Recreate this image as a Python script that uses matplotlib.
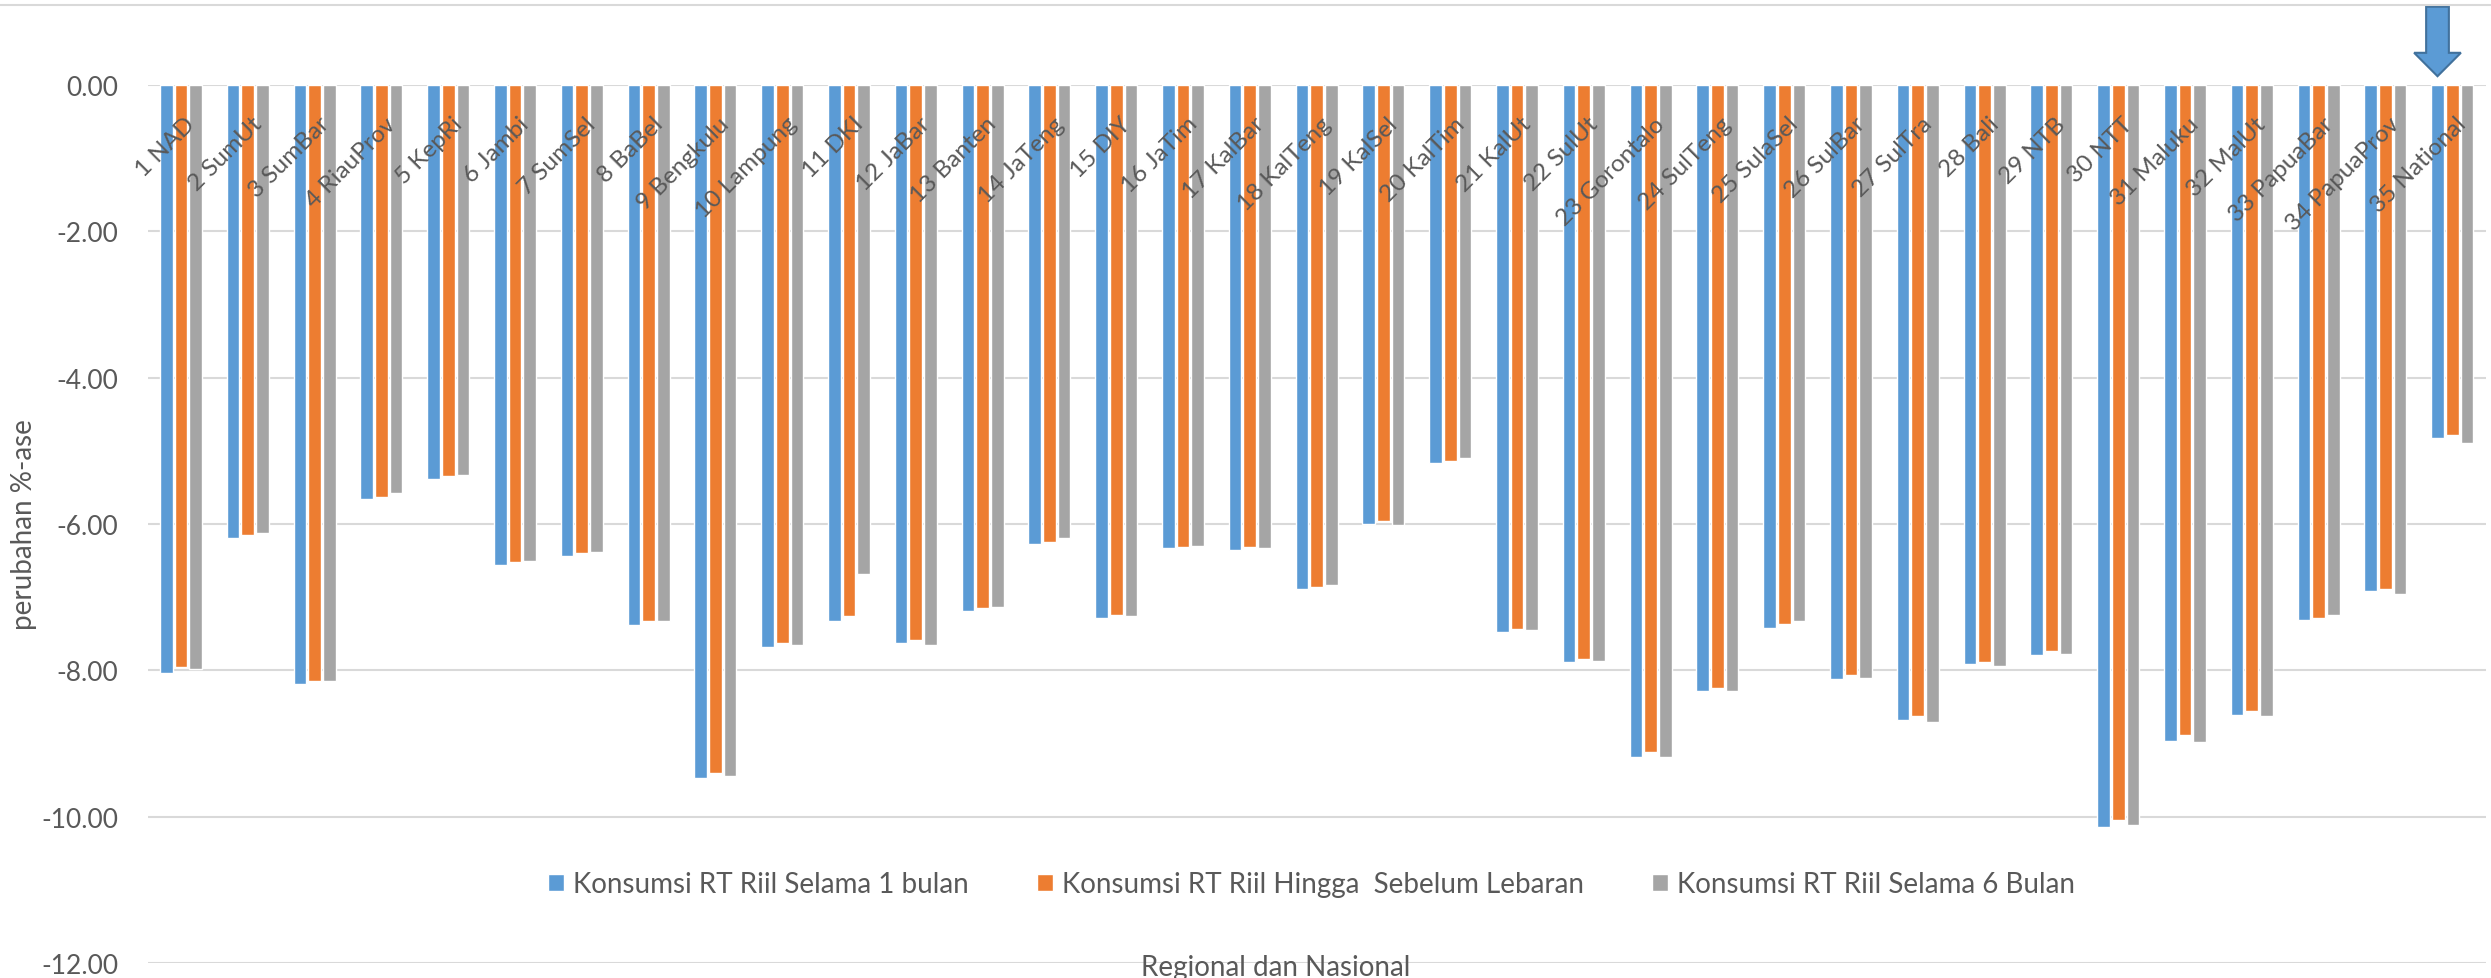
import matplotlib
matplotlib.use("Agg")
import matplotlib.pyplot as plt
import numpy as np
from matplotlib.lines import Line2D
from matplotlib.patches import FancyArrow

plt.rcParams["font.family"] = ["Lato", "DejaVu Sans"]
plt.rcParams["axes.unicode_minus"] = False  # hyphen minus on the y labels

# regions, in the order of the survey
wilayah = ["1 NAD", "2 SumUt", "3 SumBar", "4 RiauProv", "5 KepRi", "6 Jambi",
           "7 SumSel", "8 BaBel", "9 Bengkulu", "10 Lampung", "11 DKI", "12 JaBar",
           "13 Banten", "14 JaTeng", "15 DIY", "16 JaTim", "17 KalBar", "18 KalTeng",
           "19 KalSel", "20 KalTim", "21 KalUt", "22 SulUt", "23 Gorontalo",
           "24 SulTeng", "25 SulaSel", "26 SulBar", "27 SulTra", "28 Bali", "29 NTB",
           "30 NTT", "31 Maluku", "32 MalUt", "33 PapuaBar", "34 PapuaProv",
           "35 National"]

# perubahan %-ase konsumsi RT riil
selama_1_bulan = [-8.03, -6.19, -8.19, -5.66, -5.38, -6.56, -6.44, -7.38, -9.47, -7.68,
                  -7.33, -7.63, -7.19, -6.27, -7.29, -6.33, -6.35, -6.89, -6.00, -5.17,
                  -7.47, -7.89, -9.18, -8.28, -7.42, -8.12, -8.68, -7.91, -7.79, -10.14,
                  -8.96, -8.61, -7.31, -6.92, -4.82]
hingga_lebaran = [-7.96, -6.15, -8.14, -5.63, -5.34, -6.52, -6.40, -7.33, -9.40, -7.63,
                  -7.26, -7.58, -7.15, -6.24, -7.25, -6.31, -6.31, -6.86, -5.96, -5.14,
                  -7.44, -7.84, -9.12, -8.24, -7.37, -8.07, -8.63, -7.88, -7.74, -10.04,
                  -8.89, -8.56, -7.28, -6.89, -4.78]
selama_6_bulan = [-7.98, -6.12, -8.15, -5.58, -5.33, -6.50, -6.38, -7.33, -9.45, -7.66,
                  -6.68, -7.66, -7.13, -6.19, -7.26, -6.30, -6.33, -6.84, -6.01, -5.10,
                  -7.45, -7.87, -9.18, -8.28, -7.33, -8.10, -8.70, -7.94, -7.77, -10.12,
                  -8.98, -8.63, -7.24, -6.96, -4.89]

seri = [
    ("Konsumsi RT Riil Selama 1 bulan", selama_1_bulan, "#5B9BD5"),
    ("Konsumsi RT Riil Hingga  Sebelum Lebaran", hingga_lebaran, "#ED7D31"),
    ("Konsumsi RT Riil Selama 6 Bulan", selama_6_bulan, "#A5A5A5"),
]

teks = "#595959"
grid = "#D9D9D9"
W, H = 2491, 979

fig = plt.figure(figsize=(W / 100, H / 100), dpi=100)
ax = fig.add_axes([147.6 / W, 1 - 964 / H, 2338 / W, 878 / H])

x = np.arange(len(wilayah))
jarak = 0.22
for k, (nama, nilai, warna) in enumerate(seri):
    ax.bar(x + (k - 1) * jarak, nilai, width=0.19, color=warna,
           edgecolor="white", linewidth=1.0, label=nama, zorder=3)

ax.set_xlim(-0.5, len(wilayah) - 0.5)
ax.set_ylim(-12, 0)
ax.set_yticks(np.arange(-12, 0.1, 2))
ax.set_yticklabels([f"{v:.2f}" for v in np.arange(-12, 0.1, 2)])
ax.set_xticks([])
ax.tick_params(axis="y", length=0, pad=21, labelsize=19, labelcolor=teks)
ax.grid(axis="y", color=grid, linewidth=1.5)
ax.set_axisbelow(True)
for s in ax.spines.values():
    s.set_visible(False)

# category names hang under the zero line, right end at the group centre
for i, nama in enumerate(wilayah):
    ax.text(i + 0.05, -0.38, nama, rotation=45, rotation_mode="anchor",
            ha="right", va="top", fontsize=17.5, color=teks)

ax.legend(loc="center", bbox_to_anchor=(0.498, 0.09), ncol=3, frameon=False,
          fontsize=20, labelcolor=teks, handlelength=0.55, handleheight=0.55,
          handletextpad=0.35, columnspacing=2.45)

# arrow pointing at the national bar
i_nas = len(wilayah) - 1
ax.add_patch(FancyArrow(i_nas - jarak, 1.07, 0, -0.95, width=0.34, head_width=0.70,
                        head_length=0.32, length_includes_head=True,
                        facecolor="#5B9BD5", edgecolor="#41719C", linewidth=1.5,
                        clip_on=False, zorder=5))

fig.text(24 / W, 1 - 525 / H, "perubahan %-ase", rotation=90, ha="center",
         va="center", fontsize=20, color=teks)
fig.text(1276 / W, 1 - 968 / H, "Regional dan Nasional", ha="center", va="center",
         fontsize=20, color=teks)
fig.add_artist(Line2D([0, 1], [1 - 6 / H] * 2, transform=fig.transFigure,
                      color=grid, linewidth=1.5))

fig.savefig("out.png", dpi=100)
